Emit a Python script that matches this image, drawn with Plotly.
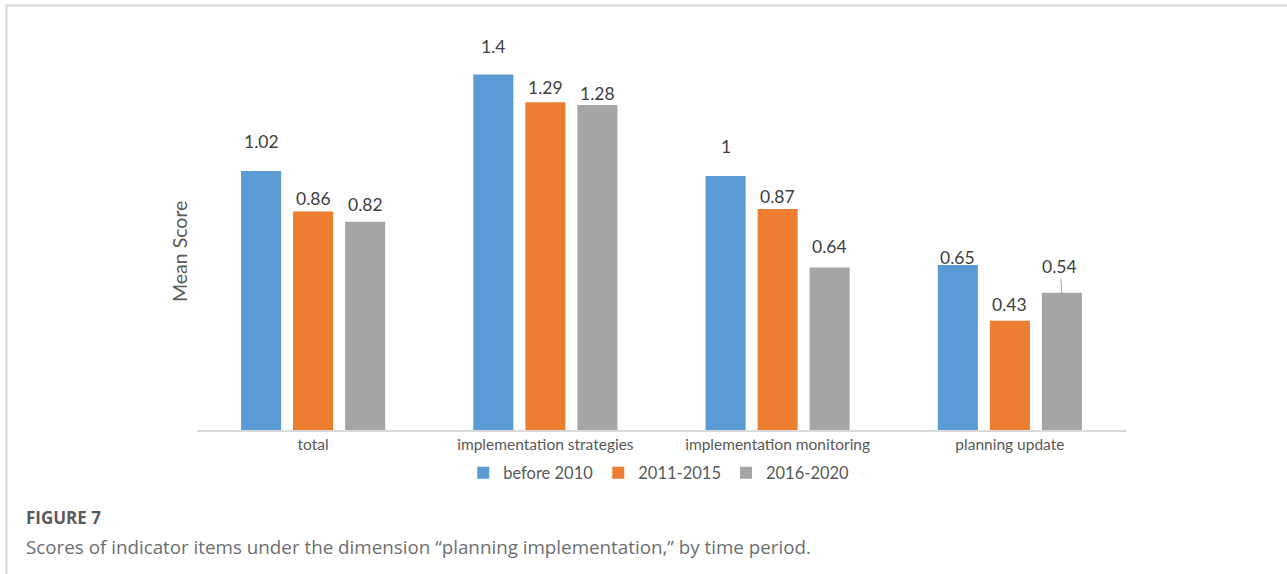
import plotly.graph_objects as go

categories = ["total", "implementation strategies", "implementation monitoring", "planning update"]
series_names = ["before 2010", "2011-2015", "2016-2020"]
before_2010 = [1.02, 1.4, 1.0, 0.65]
p_2011_2015 = [0.86, 1.29, 0.87, 0.43]
p_2016_2020 = [0.82, 1.28, 0.64, 0.54]
label_text = [["1.02", "1.4", "1", "0.65"],
              ["0.86", "1.29", "0.87", "0.43"],
              ["0.82", "1.28", "0.64", "0.54"]]

colors = ["#5B9BD5", "#ED7D31", "#A5A5A5"]
# per-label vertical offsets (px), as placed in the original
label_dy = [[29, 28, 30, 7],
            [13, 15, 13, 16],
            [17, 11, 21, 26]]

W, H = 1287, 574
L, R, T, B = 197, 161, 36, 144
plot_w = W - L - R
plot_h = H - T - B
px_per_unit = 254.0
ymax = plot_h / px_per_unit
bargap = 0.328
bargroupgap = 0.23

fig = go.Figure()
all_vals = [before_2010, p_2011_2015, p_2016_2020]
for name, vals, c in zip(series_names, all_vals, colors):
    fig.add_trace(go.Bar(name=name, x=categories, y=vals, marker=dict(color=c, line=dict(width=0)),
                         hoverinfo="skip"))

slot = (1 - bargap) / 3
annotations = []
lab_font = dict(family="Lato", size=17.5, color="#404040")
for j, vals in enumerate(all_vals):
    for i, v in enumerate(vals):
        xpos = i + (j - 1) * slot
        if j == 2 and i == 3:
            annotations.append(dict(x=xpos, y=v, xref="x", yref="y", text=label_text[j][i],
                                    showarrow=True, arrowhead=0, arrowwidth=1, arrowcolor="#A6A6A6",
                                    ax=-2, ay=-label_dy[j][i], standoff=0, font=lab_font))
        else:
            annotations.append(dict(x=xpos, y=v, xref="x", yref="y", text=label_text[j][i],
                                    showarrow=False, yshift=label_dy[j][i], yanchor="middle",
                                    font=lab_font))

annotations.append(dict(text="Mean Score", textangle=-90, xref="paper", yref="paper",
                        x=0, y=(430 - 252) / plot_h, xshift=-18, showarrow=False,
                        xanchor="center", yanchor="middle",
                        font=dict(family="Lato", size=19.5, color="#595959")))

def px_to_paper_x(px):
    return (px - L) / plot_w

def px_to_paper_y(py):
    return (H - B - py) / plot_h

annotations.append(dict(text="<b>FIGURE 7</b>", xref="paper", yref="paper",
                        x=px_to_paper_x(24), y=px_to_paper_y(517), xanchor="left", yanchor="middle",
                        showarrow=False, font=dict(family="Open Sans", size=17, color="#5A5B5D")))
annotations.append(dict(text="Scores of indicator items under the dimension \u201cplanning implementation,\u201d by time period.",
                        xref="paper", yref="paper",
                        x=px_to_paper_x(24), y=px_to_paper_y(547), xanchor="left", yanchor="middle",
                        showarrow=False, font=dict(family="Open Sans", size=18.8, color="#6D6E71")))

shapes = [
    dict(type="line", xref="paper", yref="paper", x0=px_to_paper_x(6), x1=px_to_paper_x(1290),
         y0=px_to_paper_y(5.5), y1=px_to_paper_y(5.5), line=dict(color="#D6D6D6", width=2)),
    dict(type="line", xref="paper", yref="paper", x0=px_to_paper_x(6.5), x1=px_to_paper_x(6.5),
         y0=px_to_paper_y(5), y1=px_to_paper_y(580), line=dict(color="#D6D6D6", width=2)),
]

fig.update_layout(
    width=W, height=H,
    margin=dict(l=L, r=R, t=T, b=B, pad=0),
    paper_bgcolor="white", plot_bgcolor="white",
    barmode="group", bargap=bargap, bargroupgap=bargroupgap,
    showlegend=True,
    legend=dict(orientation="h", x=0.497, xanchor="center", y=px_to_paper_y(473), yanchor="middle",
                font=dict(family="Lato", size=16.5, color="#595959"), itemwidth=30,
                traceorder="normal", bgcolor="rgba(0,0,0,0)"),
    xaxis=dict(range=[-0.5, 3.5], showline=True, linecolor="#D9D9D9", linewidth=1.5,
               ticks="", showgrid=False, zeroline=False,
               tickfont=dict(family="Lato", size=15.5, color="#595959")),
    yaxis=dict(range=[0, ymax], showticklabels=False, showgrid=False, zeroline=False,
               showline=False, ticks=""),
    annotations=annotations,
    shapes=shapes,
)

fig.write_html("out.html")
